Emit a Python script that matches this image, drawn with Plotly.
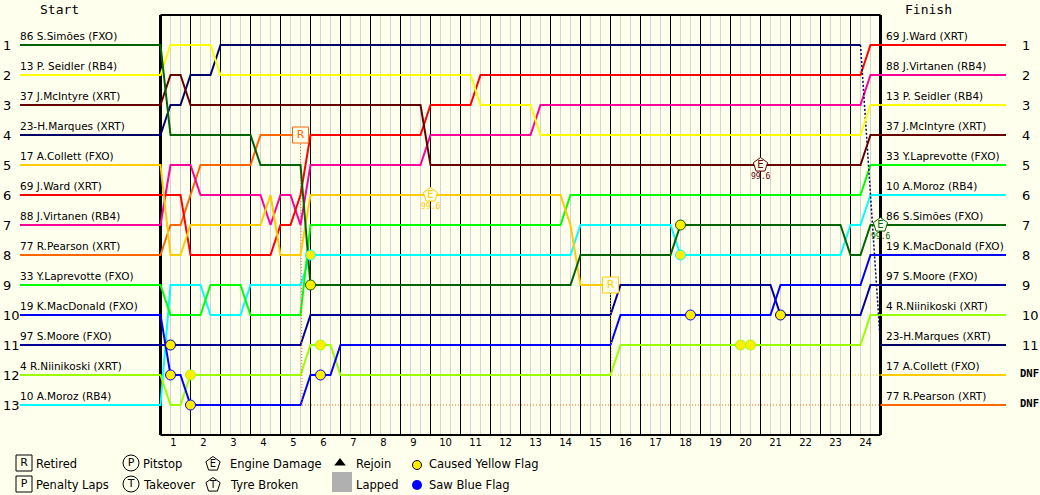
import plotly.graph_objects as go

# Race lap chart: running position per driver at each sector end (3 sectors per lap).
LAPS = 24
SECTORS_PER_LAP = 3

START_LABELS = [
    "86 S.Simões (FXO)", "13 P. Seidler (RB4)", "37 J.McIntyre (XRT)", "23-H.Marques (XRT)",
    "17 A.Collett (FXO)", "69 J.Ward (XRT)", "88 J.Virtanen (RB4)", "77 R.Pearson (XRT)",
    "33 Y.Laprevotte (FXO)", "19 K.MacDonald (FXO)", "97 S.Moore (FXO)", "4 R.Niinikoski (XRT)",
    "10 A.Moroz (RB4)",
]
FINISH_LABELS = [
    "69 J.Ward (XRT)", "88 J.Virtanen (RB4)", "13 P. Seidler (RB4)", "37 J.McIntyre (XRT)",
    "33 Y.Laprevotte (FXO)", "10 A.Moroz (RB4)", "86 S.Simões (FXO)", "19 K.MacDonald (FXO)",
    "97 S.Moore (FXO)", "4 R.Niinikoski (XRT)", "23-H.Marques (XRT)", "17 A.Collett (FXO)",
    "77 R.Pearson (XRT)",
]
FINISH_MARKS = ["1", "2", "3", "4", "5", "6", "7", "8", "9", "10", "11", "DNF", "DNF"]

COLORS = {
    "Simoes": "#006400", "Seidler": "#ffff00", "McIntyre": "#660000", "Marques": "#000066",
    "Collett": "#ffcc00", "Ward": "#ff0000", "Virtanen": "#ff0099", "Pearson": "#ff6600",
    "Laprevotte": "#00ff00", "MacDonald": "#0000ff", "Moore": "#000099", "Niinikoski": "#99ff00",
    "Moroz": "#00ffff",
}

# First value is the grid slot, then three values per lap.
simoes = [1,
    4,4,4, 4,4,4, 4,4,4, 5,5,5, 5,5,9, 9,9,9, 9,9,9, 9,9,9, 9,9,9, 9,9,9, 9,9,9, 9,9,9,
    9,9,9, 9,9,8, 8,8,8, 8,8,8, 8,8,8, 7,7,7, 7,7,7, 7,7,7, 7,7,7, 7,7,7, 7,7,8, 8,7,7]
seidler = [2,
    1,1,1, 1,1,2, 2,2,2, 2,2,2, 2,2,2, 2,2,2, 2,2,2, 2,2,2, 2,2,2, 2,2,2, 2,3,3, 3,3,3,
    3,4,4, 4,4,4, 4,4,4, 4,4,4, 4,4,4, 4,4,4, 4,4,4, 4,4,4, 4,4,4, 4,4,4, 4,4,4, 4,3,3]
mcintyre = [3,
    2,2,3, 3,3,3, 3,3,3, 3,3,3, 3,3,3, 3,3,3, 3,3,3, 3,3,3, 3,3,5, 5,5,5, 5,5,5, 5,5,5,
    5,5,5, 5,5,5, 5,5,5, 5,5,5, 5,5,5, 5,5,5, 5,5,5, 5,5,5, 5,5,5, 5,5,5, 5,5,5, 5,4,4]
marques = [4,
    3,3,2, 2,2,1, 1,1,1, 1,1,1, 1,1,1, 1,1,1, 1,1,1, 1,1,1, 1,1,1, 1,1,1, 1,1,1, 1,1,1,
    1,1,1, 1,1,1, 1,1,1, 1,1,1, 1,1,1, 1,1,1, 1,1,1, 1,1,1, 1,1,1, 1,1,1, 1,1,1, 1,6,11]
collett = [5,
    8,8,7, 7,7,7, 7,7,7, 7,6,8, 8,8,6, 6,6,6, 6,6,6, 6,6,6, 6,6,6, 6,6,6, 6,6,6, 6,6,6,
    6,6,6, 6,7,9, 9,9,9, 12,12,12, 12,12,12, 12,12,12, 12,12,12, 12,12,12, 12,12,12,
    12,12,12, 12,12,12, 12,12,12]
ward = [6,
    6,6,8, 8,8,8, 8,8,8, 8,8,7, 7,6,4, 4,4,4, 4,4,4, 4,4,4, 4,4,3, 3,3,3, 3,2,2, 2,2,2,
    2,2,2, 2,2,2, 2,2,2, 2,2,2, 2,2,2, 2,2,2, 2,2,2, 2,2,2, 2,2,2, 2,2,2, 2,2,2, 2,1,1]
virtanen = [7,
    5,5,5, 6,6,6, 6,6,6, 6,7,6, 6,7,5, 5,5,5, 5,5,5, 5,5,5, 5,5,4, 4,4,4, 4,4,4, 4,4,4,
    4,3,3, 3,3,3, 3,3,3, 3,3,3, 3,3,3, 3,3,3, 3,3,3, 3,3,3, 3,3,3, 3,3,3, 3,3,3, 3,2,2]
pearson = [8,
    7,7,6, 5,5,5, 5,5,5, 4,4,4, 4,4,13, 13,13,13, 13,13,13, 13,13,13, 13,13,13, 13,13,13,
    13,13,13, 13,13,13, 13,13,13, 13,13,13, 13,13,13, 13,13,13, 13,13,13, 13,13,13,
    13,13,13, 13,13,13, 13,13,13, 13,13,13, 13,13,13, 13,13,13]
laprevotte = [9,
    10,10,10, 10,9,9, 9,9,10, 10,10,10, 10,10,7, 7,7,7, 7,7,7, 7,7,7, 7,7,7, 7,7,7, 7,7,7,
    7,7,7, 7,7,7, 7,6,6, 6,6,6, 6,6,6, 6,6,6, 6,6,6, 6,6,6, 6,6,6, 6,6,6, 6,6,6, 6,6,6, 6,5,5]
macdonald = [10,
    12,12,13, 13,13,13, 13,13,13, 13,13,13, 13,13,12, 12,12,11, 11,11,11, 11,11,11, 11,11,11,
    11,11,11, 11,11,11, 11,11,11, 11,11,11, 11,11,11, 11,11,11, 10,10,10, 10,10,10, 10,10,10,
    10,10,10, 10,10,10, 10,9,9, 9,9,9, 9,9,9, 9,8,8]
moore = [11,
    11,11,11, 11,11,11, 11,11,11, 11,11,11, 11,11,10, 10,10,10, 10,10,10, 10,10,10, 10,10,10,
    10,10,10, 10,10,10, 10,10,10, 10,10,10, 10,10,10, 10,10,10, 9,9,9, 9,9,9, 9,9,9, 9,9,9,
    9,9,9, 9,10,10, 10,10,10, 10,10,10, 10,9,9]
niinikoski = [12,
    13,13,12, 12,12,12, 12,12,12, 12,12,12, 12,12,11, 11,11,12, 12,12,12, 12,12,12, 12,12,12,
    12,12,12, 12,12,12, 12,12,12, 12,12,12, 12,12,12, 12,12,12, 11,11,11, 11,11,11, 11,11,11,
    11,11,11, 11,11,11, 11,11,11, 11,11,11, 11,11,11, 11,10,10]
moroz = [13,
    9,9,9, 9,10,10, 10,10,9, 9,9,9, 9,9,8, 8,8,8, 8,8,8, 8,8,8, 8,8,8, 8,8,8, 8,8,8, 8,8,8,
    8,8,8, 8,8,7, 7,7,7, 7,7,7, 7,7,7, 8,8,8, 8,8,8, 8,8,8, 8,8,8, 8,8,8, 8,8,7, 7,6,6]

POSITIONS = {
    "Simoes": simoes, "Seidler": seidler, "McIntyre": mcintyre, "Marques": marques,
    "Collett": collett, "Ward": ward, "Virtanen": virtanen, "Pearson": pearson,
    "Laprevotte": laprevotte, "MacDonald": macdonald, "Moore": moore, "Niinikoski": niinikoski,
    "Moroz": moroz,
}
# Back of the grid is painted first so the front-runners sit on top at crossings.
DRAW_ORDER = list(POSITIONS)[::-1]

# Sector at which a car stops running normally; the rest of its line is dotted.
OUT_FROM = {"Marques": 70, "Collett": 45, "Pearson": 14}
RETIRED = {"Collett": 45, "Pearson": 14}
YELLOW_FLAGS = [
    ("Moore", 1), ("MacDonald", 1), ("Niinikoski", 3), ("MacDonald", 3),
    ("Moroz", 15), ("Simoes", 15), ("Niinikoski", 16), ("MacDonald", 16),
    ("Simoes", 52), ("Moroz", 52), ("MacDonald", 53), ("Niinikoski", 58),
    ("Niinikoski", 59), ("Moore", 62),
]
ENGINE_DAMAGE = [("Collett", 27, "99.6"), ("McIntyre", 60, "99.6"), ("Simoes", 72, "99.6")]

BG = "#ffffee"
GREY = "#d4d4d4"
UI_FONT = "DejaVu Sans"
MONO_FONT = "DejaVu Sans Mono"
ROW_SIZE = 10.5
KEY_SIZE = 11.5


# Fixed page furniture is laid out in page pixels and converted to axis units.
def page_x(px):
    return (px - 160.5) / 10


def page_y(py):
    return (py - 45) / 30 + 1


fig = go.Figure()
sectors = list(range(LAPS * SECTORS_PER_LAP + 1))
last = sectors[-1]

shapes = []
for s in sectors[1:-1]:
    color = "#000000" if s % SECTORS_PER_LAP == 0 else GREY
    shapes.append(dict(type="line", xref="x", yref="y", x0=s, x1=s, y0=0, y1=14,
                       line=dict(color=color, width=1), layer="below"))
shapes.append(dict(type="line", xref="x", yref="y", x0=0, x1=last, y0=0, y1=0,
                   line=dict(color="#000000", width=2), layer="below"))
shapes.append(dict(type="line", xref="x", yref="y", x0=0, x1=last, y0=14, y1=14,
                   line=dict(color="#000000", width=2), layer="below"))
shapes.append(dict(type="line", xref="x", yref="y", x0=0, x1=0, y0=0, y1=14,
                   line=dict(color="#000000", width=3), layer="below"))
shapes.append(dict(type="line", xref="x", yref="y", x0=last, x1=last, y0=0, y1=14,
                   line=dict(color="#000000", width=3), layer="below"))

# Driver lines: stub in from the start column, solid racing part, dotted part, stub to the finish column.
for name in DRAW_ORDER:
    pos = POSITIONS[name]
    color = COLORS[name]
    end = OUT_FROM.get(name, last)
    fig.add_trace(go.Scatter(
        x=[page_x(20)] + sectors[:end + 1], y=[pos[0]] + pos[:end + 1],
        mode="lines", line=dict(color=color, width=2, simplify=False),
        hoverinfo="skip", showlegend=False))
    if name in OUT_FROM:
        if name in RETIRED:
            # A retired car falls straight to its classified slot.
            xs = [end, end + 0.15] + sectors[end + 2:]
            dotted = dict(color=color, width=1, dash="1px,2px", simplify=False)
        else:
            xs = sectors[end:]
            dotted = dict(color=color, width=1.5, dash="2px,2px", simplify=False)
        fig.add_trace(go.Scatter(
            x=xs, y=pos[end:], mode="lines", line=dotted,
            hoverinfo="skip", showlegend=False))
    fig.add_trace(go.Scatter(
        x=[last, page_x(1006)], y=[pos[-1], pos[-1]],
        mode="lines", line=dict(color=color, width=2), hoverinfo="skip", showlegend=False))

# Yellow flag dots, outlined in the colour of the driver involved.
for name, s in YELLOW_FLAGS:
    fig.add_trace(go.Scatter(
        x=[s], y=[POSITIONS[name][s]], mode="markers",
        marker=dict(color="#ffee00", size=10, line=dict(color=COLORS[name], width=1)),
        hoverinfo="skip", showlegend=False))

annotations = []


def note(px, py, text, size=ROW_SIZE, color="#000000", family=UI_FONT, anchor="left", bold=False):
    annotations.append(dict(
        xref="x", yref="y", x=page_x(px), y=page_y(py), text=f"<b>{text}</b>" if bold else text,
        showarrow=False, xanchor=anchor, yanchor="middle",
        font=dict(size=size, color=color, family=family), borderpad=0, borderwidth=0))


# Engine damage pentagons with the lap percentage under them.
for name, s, value in ENGINE_DAMAGE:
    color = COLORS[name]
    y = POSITIONS[name][s]
    fig.add_trace(go.Scatter(
        x=[s], y=[y], mode="markers+text", text=["E"], textposition="middle center",
        textfont=dict(size=10, color=color, family=UI_FONT),
        marker=dict(symbol="pentagon", color=BG, size=15, line=dict(color=color, width=1)),
        hoverinfo="skip", showlegend=False, cliponaxis=False))
    annotations.append(dict(
        xref="x", yref="y", x=s, y=y, yshift=-11, text=value, showarrow=False,
        font=dict(size=8, color=color, family=MONO_FONT)))

# Retirement boxes.
for name, s in RETIRED.items():
    color = COLORS[name]
    fig.add_trace(go.Scatter(
        x=[s], y=[POSITIONS[name][s]], mode="markers+text", text=["R"], textposition="middle center",
        textfont=dict(size=11, color=color, family=UI_FONT),
        marker=dict(symbol="square", color=BG, size=16, line=dict(color=color, width=1)),
        hoverinfo="skip", showlegend=False))

# Column headings, driver names and classification.
note(40, 9, "Start", size=13, family=MONO_FONT)
note(905, 9, "Finish", size=13, family=MONO_FONT)
for i, (left, right) in enumerate(zip(START_LABELS, FINISH_LABELS)):
    rowy = 45 + 30 * i
    note(20, rowy - 9, left)
    note(886, rowy - 9, right)
    note(3, rowy, str(i + 1), size=13)
    mark = FINISH_MARKS[i]
    if mark == "DNF":
        note(1020, rowy - 2, mark, size=10.5, family=MONO_FONT, bold=True)
    else:
        note(1022, rowy, mark, size=13)

# Key under the chart.
key_symbols = [
    (24, 463, "square", "R"), (24, 484, "square", "P"),
    (131, 463, "circle", "P"), (131, 484, "circle", "T"),
]
for px, py, symbol, letter in key_symbols:
    fig.add_trace(go.Scatter(
        x=[page_x(px)], y=[page_y(py)], mode="markers+text", text=[letter], textposition="middle center",
        textfont=dict(size=11, color="#000000", family=UI_FONT),
        marker=dict(symbol=symbol, color=BG, size=16, line=dict(color="#000000", width=1)),
        hoverinfo="skip", showlegend=False))
for py, letter, symbol in [(464, "E", "pentagon"), (485, "T", "pentagon")]:
    fig.add_trace(go.Scatter(
        x=[page_x(213)], y=[page_y(py)], mode="markers+text", text=[letter], textposition="middle center",
        textfont=dict(size=10, color="#000000", family=UI_FONT),
        marker=dict(symbol=symbol, color=BG, size=15, line=dict(color="#000000", width=1)),
        hoverinfo="skip", showlegend=False))
fig.add_trace(go.Scatter(
    x=[page_x(340)], y=[page_y(463)], mode="markers",
    marker=dict(symbol="triangle-up", color="#000000", size=10), hoverinfo="skip", showlegend=False))
fig.add_trace(go.Scatter(
    x=[page_x(342)], y=[page_y(482)], mode="markers",
    marker=dict(symbol="square", color="#b0b0b0", size=20), hoverinfo="skip", showlegend=False))
fig.add_trace(go.Scatter(
    x=[page_x(417)], y=[page_y(465)], mode="markers",
    marker=dict(color="#ffee00", size=9, line=dict(color="#000000", width=1)),
    hoverinfo="skip", showlegend=False))
fig.add_trace(go.Scatter(
    x=[page_x(417)], y=[page_y(485)], mode="markers",
    marker=dict(color="#0000ff", size=10), hoverinfo="skip", showlegend=False))

for px, py, label in [
    (36, 464, "Retired"), (36, 485, "Penalty Laps"),
    (143, 464, "Pitstop"), (143, 485, "Takeover"),
    (230, 464, "Engine Damage"), (230, 485, "Tyre Broken"),
    (356, 464, "Rejoin"), (356, 485, "Lapped"),
    (429, 464, "Caused Yellow Flag"), (429, 485, "Saw Blue Flag"),
]:
    note(px, py, label, size=KEY_SIZE)

lap_ticks = [3 * lap - 1.5 - (0.2 if lap < 10 else 0) for lap in range(1, LAPS + 1)]
lap_text = [str(lap) for lap in range(1, LAPS + 1)]
x_range = [page_x(0), page_x(1040)]
axis_common = dict(
    range=x_range, showgrid=False, zeroline=False, showline=False, anchor="free",
    tickmode="array", tickvals=lap_ticks, ticktext=lap_text,
    tickfont=dict(size=10, color="#000000", family=UI_FONT),
)

fig.update_layout(
    width=1040, height=495, margin=dict(l=0, r=0, t=0, b=0),
    paper_bgcolor=BG, plot_bgcolor=BG, showlegend=False,
    shapes=shapes, annotations=annotations,
    xaxis=dict(**axis_common, side="bottom", position=(495 - 435) / 495, domain=[0, 1], ticks=""),
    xaxis2=dict(**axis_common, side="top", position=1 - 15 / 495, overlaying="x", domain=[0, 1],
                ticks="outside", ticklen=1, tickcolor=BG),
    yaxis=dict(range=[page_y(495), page_y(0)], visible=False, domain=[0, 1]),
)

fig.write_html("out.html", config=dict(displayModeBar=False))
